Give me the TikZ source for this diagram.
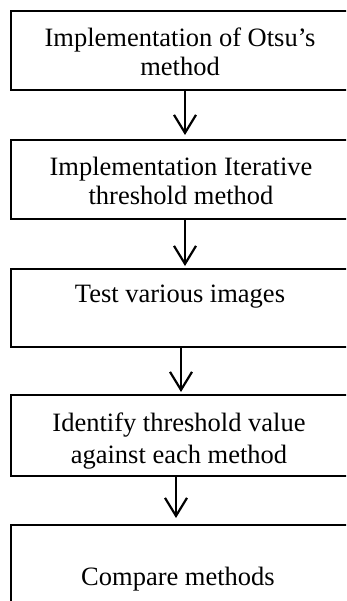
\documentclass[tikz,border=0pt]{standalone}
\usepackage{fontspec}
\setmainfont{Liberation Serif}
\usetikzlibrary{arrows.meta}
\begin{document}
\begin{tikzpicture}[x=1pt,y=-1pt,
  box/.style={draw, line width=2.2pt, minimum width=340pt, anchor=north west, inner sep=0pt},
  txt/.style={font=\fontsize{26.5}{29}\selectfont, align=center, inner sep=0pt},
  arr/.style={line width=2.2pt, -{Straight Barb[length=18pt,width=22pt]}}]
\useasboundingbox (0,0) rectangle (346,601);
\clip (0,0) rectangle (346,601);
\node[box, minimum height=79pt] (b1) at (10,10) {};
\node[box, minimum height=79pt] (b2) at (10,139) {};
\node[box, minimum height=78pt] (b3) at (10,268) {};
\node[box, minimum height=81pt] (b4) at (10,394) {};
\node[box, minimum height=100pt] (b5) at (10,524) {};
\node[txt] (t1) at (180,51.6) {Implementation of Otsu’s\\method};
\node[txt] (t2) at (181,181) {Implementation Iterative\\threshold method};
\node[txt] (t3) at (180,297) {Test various images};
\node[txt] (t4) at (179,441) {Identify threshold value\\[3pt]against each method};
\node[txt] (t5) at (178,579) {Compare methods};
\coordinate (x1) at (185,0);
\coordinate (x2) at (185,0);
\coordinate (x3) at (181,0);
\coordinate (x4) at (176,0);
\draw[arr, shorten >=4pt] (b1.south -| x1) -- (b2.north -| x1);
\draw[arr, shorten >=2pt] (b2.south -| x2) -- (b3.north -| x2);
\draw[arr, shorten >=2pt] (b3.south -| x3) -- (b4.north -| x3);
\draw[arr, shorten >=6pt] (b4.south -| x4) -- (b5.north -| x4);
\end{tikzpicture}
\end{document}
